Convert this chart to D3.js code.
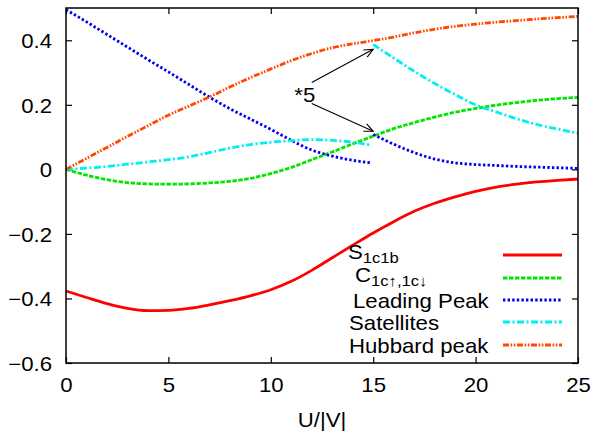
<!DOCTYPE html>
<html>
<head>
<meta charset="utf-8">
<script src="https://cdn.jsdelivr.net/npm/d3@7"></script>
<style>
  body { margin: 0; background: #fff; }
  svg text { font-family: "Liberation Sans", Arial, sans-serif; fill: #000; }
  .tick line { stroke: #000; stroke-width: 1.2; }
</style>
</head>
<body>
<svg id="chart" width="605" height="435"></svg>
<script>
// U/|V| grids
var uGrid  = [0,1,2,3,4,5,6,7,8,9,10,11,12,13,14,15,16,17,18,19,20,21,22,23,24,25];
var uLeft  = [0,1,2,3,4,5,6,7,8,9,10,11,12,13,14,14.9];
var uRight = [15,16,17,18,19,20,21,22,23,24,25];

// series values
var sValues   = [-0.377,-0.397,-0.416,-0.431,-0.438,-0.437,-0.431,-0.420,-0.407,-0.392,-0.373,-0.347,-0.313,-0.274,-0.235,-0.197,-0.162,-0.130,-0.105,-0.085,-0.068,-0.055,-0.046,-0.039,-0.034,-0.030];
var cValues   = [0,-0.018,-0.032,-0.041,-0.045,-0.046,-0.045,-0.042,-0.037,-0.028,-0.013,0.006,0.030,0.054,0.079,0.103,0.126,0.145,0.162,0.177,0.189,0.199,0.207,0.214,0.219,0.223];
var leadLeft  = [0.495,0.457,0.418,0.379,0.340,0.302,0.263,0.224,0.188,0.156,0.124,0.090,0.060,0.041,0.028,0.020];
var leadRight = [0.108,0.078,0.052,0.032,0.020,0.015,0.012,0.009,0.007,0.005,0.003];
var satLeft   = [0,0.004,0.009,0.016,0.023,0.030,0.039,0.052,0.066,0.077,0.084,0.089,0.092,0.090,0.084,0.075];
var satRight  = [0.387,0.345,0.304,0.266,0.232,0.200,0.178,0.157,0.139,0.125,0.112];
var hubbard   = [0,0.034,0.068,0.102,0.135,0.168,0.196,0.224,0.255,0.284,0.311,0.337,0.359,0.377,0.389,0.399,0.410,0.423,0.434,0.443,0.450,0.456,0.461,0.466,0.470,0.474];

var xTicks = [0,5,10,15,20,25];
var yTicks = [-0.6,-0.4,-0.2,0,0.2,0.4];

// "*5" annotation: label and arrows (tail -> tip) in data units
var noteLabel = "*5";
var notePos = [11.15, 0.21];
var arrowTails = [[12.0, 0.269], [12.0, 0.204]];
var arrowTips  = [[15.0, 0.372], [15.0, 0.118]];

var legendLabels = ["S", "C", "Leading Peak", "Satellites", "Hubbard peak"];
var legendSubs   = ["1c1b", "1c\u2191,1c\u2193", null, null, null];

(function() {
    var width = 512, height = 355;
    var stretchX = 1.11; // reference font is a bit wider than Liberation Sans

    var svg = d3.select("#chart");
    var chart = svg.append("g").attr("transform", "translate(66, 8)");

    var x = d3.scaleLinear().domain([0, 25]).range([0, width]);
    var y = d3.scaleLinear().domain([-0.6, 0.5]).range([height, 0]);

    // widen a text element horizontally around its anchor point
    function stretch(sel) {
        sel.each(function() {
            var t = d3.select(this);
            var tx = +t.attr("x") || 0, ty = +t.attr("y") || 0;
            t.attr("x", 0).attr("y", 0)
             .attr("transform", "translate(" + tx + "," + ty + ") scale(" + stretchX + ",1)");
        });
    }

    //axes with inward ticks, labels on left and bottom only
    var bottom = chart.append("g")
        .attr("transform", "translate(0," + height + ")")
        .call(d3.axisBottom(x).tickValues(xTicks).tickSize(-6).tickPadding(15).tickFormat(d3.format("d")));
    var left = chart.append("g")
        .call(d3.axisLeft(y).tickValues(yTicks).tickSize(-6).tickPadding(14).tickFormat(function(d) { return d === 0 ? "0" : d3.format(".1f")(d); }));
    chart.append("g")
        .call(d3.axisTop(x).tickValues(xTicks).tickSize(-6).tickFormat(""));
    chart.append("g")
        .attr("transform", "translate(" + width + ",0)")
        .call(d3.axisRight(y).tickValues(yTicks).tickSize(-6).tickFormat(""));
    chart.selectAll(".domain").remove();

    bottom.selectAll("text").attr("font-size", 20).attr("font-family", null);
    left.selectAll("text").attr("font-size", 20).attr("font-family", null).attr("dy", "0.36em");
    stretch(bottom.selectAll("text"));
    stretch(left.selectAll("text"));

    // x axis title
    chart.append("text")
        .attr("x", width / 2).attr("y", 419)
        .attr("text-anchor", "middle")
        .attr("font-size", 20)
        .text("U/|V|")
        .call(stretch);

    // lines
    var line = d3.line()
        .x(function(d) { return x(d[0]); })
        .y(function(d) { return y(d[1]); })
        .curve(d3.curveMonotoneX);

    function pairs(us, vs) { return us.map(function(u, i) { return [u, vs[i]]; }); }

    var styles = [
        { color: "#ff0000", dash: null },
        { color: "#00e600", dash: "4.5,1.5" },
        { color: "#0000ee", dash: "2.4,2.2" },
        { color: "#00f0f0", dash: "7,2.5,2,2.5" },
        { color: "#ff4800", dash: "6,1.6,1.6,1.6,1.6,1.6" }
    ];

    var series = [
        { s: 0, pts: pairs(uGrid, sValues) },
        { s: 1, pts: pairs(uGrid, cValues) },
        { s: 2, pts: pairs(uLeft, leadLeft) },
        { s: 2, pts: pairs(uRight, leadRight) },
        { s: 3, pts: pairs(uLeft, satLeft) },
        { s: 3, pts: pairs(uRight, satRight) },
        { s: 4, pts: pairs(uGrid, hubbard) }
    ];

    chart.append("g")
        .selectAll("path")
        .data(series)
        .enter()
        .append("path")
            .attr("d", function(d) { return line(d.pts); })
            .attr("fill", "none")
            .attr("stroke", function(d) { return styles[d.s].color; })
            .attr("stroke-width", 2.8)
            .attr("stroke-dasharray", function(d) { return styles[d.s].dash; });

    // annotation arrows
    svg.append("defs").append("marker")
        .attr("id", "vhead")
        .attr("markerUnits", "userSpaceOnUse")
        .attr("viewBox", "-10 -6 12 12")
        .attr("markerWidth", 12).attr("markerHeight", 12)
        .attr("orient", "auto")
        .append("path")
            .attr("d", "M-9,-4 L0,0 L-9,4")
            .attr("fill", "none")
            .attr("stroke", "#000")
            .attr("stroke-width", 1.1);

    chart.append("g")
        .selectAll("line")
        .data(arrowTails)
        .enter()
        .append("line")
            .attr("x1", function(d) { return x(d[0]); })
            .attr("y1", function(d) { return y(d[1]); })
            .attr("x2", function(d, i) { return x(arrowTips[i][0]); })
            .attr("y2", function(d, i) { return y(arrowTips[i][1]); })
            .attr("stroke", "#000")
            .attr("stroke-width", 1.1)
            .attr("marker-end", "url(#vhead)");

    chart.append("text")
        .attr("x", x(notePos[0])).attr("y", y(notePos[1]))
        .attr("font-size", 20)
        .text(noteLabel)
        .call(stretch);

    // legend (gnuplot style: text on the left, sample line on the right)
    var legendTextX = [282, 289, 287, 283, 283];
    var legendRowY = [247, 270, 292, 314, 337];
    var legend = chart.append("g");
    legendLabels.forEach(function(label, i) {
        legend.append("line")
            .attr("x1", 437).attr("x2", 496)
            .attr("y1", legendRowY[i]).attr("y2", legendRowY[i])
            .attr("stroke", styles[i].color)
            .attr("stroke-width", 2.8)
            .attr("stroke-dasharray", styles[i].dash);
        var t = legend.append("text")
            .attr("x", legendTextX[i])
            .attr("y", legendRowY[i] + (legendSubs[i] ? 4 : 8))
            .attr("font-size", 20);
        t.append("tspan").text(label);
        if (legendSubs[i]) {
            t.append("tspan").attr("dy", 4).attr("font-size", 15).text(legendSubs[i]);
        }
        stretch(t);
    });

    // frame
    chart.append("rect")
        .attr("width", width).attr("height", height)
        .attr("fill", "none")
        .attr("stroke", "#000")
        .attr("stroke-width", 1.5);
})();
</script>
</body>
</html>
